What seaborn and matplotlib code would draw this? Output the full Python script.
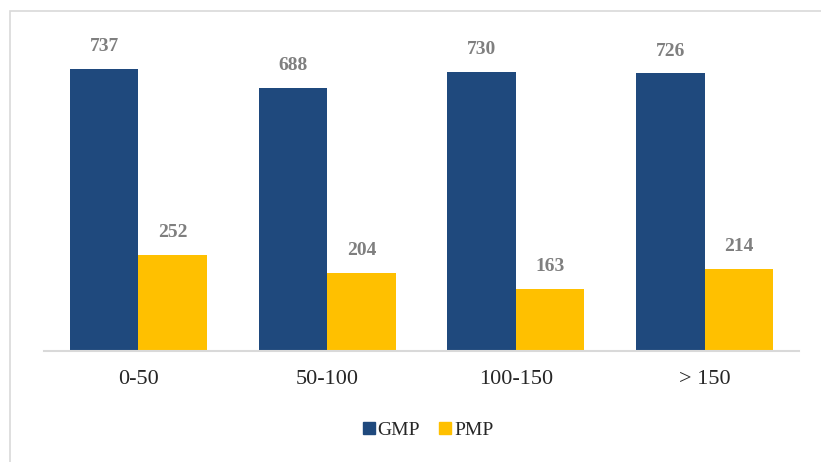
import numpy as np
import pandas as pd
import matplotlib
matplotlib.use("Agg")
import matplotlib.pyplot as plt
from matplotlib.patches import Rectangle
import seaborn as sns

sns.set_style("white")
plt.rcParams['font.family'] = ['Liberation Serif', 'DejaVu Serif']

# data
categories = ["0-50", "50-100", "100-150", "> 150"]
gmp_values = [737, 688, 730, 726]
pmp_values = [252, 204, 163, 214]
series_names = ["GMP", "PMP"]

df = pd.DataFrame({
    "Range": categories * 2,
    "Value": gmp_values + pmp_values,
    "Series": [series_names[0]] * len(categories) + [series_names[1]] * len(categories),
})

fig = plt.figure(figsize=(8.21, 4.62), dpi=100)
ax = fig.add_axes([44/821, 1 - 351/462, 755/821, 325/462])

sns.barplot(data=df, x="Range", y="Value", hue="Series",
            palette=["#1F497D", "#FFC000"], width=0.726, gap=0,
            saturation=1, linewidth=0, ax=ax, legend=False)

for container in ax.containers:
    ax.bar_label(container, padding=10, fontsize=14, fontweight="bold",
                 color="#7F7F7F")

ax.set_ylim(0, 850)
ax.set_xlim(-0.5, 3.5)
ax.set_yticks([])
ax.set_xlabel("")
ax.set_ylabel("")
ax.tick_params(axis="x", length=0, labelsize=16, pad=14)
for s in ["top", "right", "left"]:
    ax.spines[s].set_visible(False)
ax.spines["bottom"].set_color("#D9D9D9")
ax.spines["bottom"].set_linewidth(1.5)

# legend with square markers
handles = [plt.Line2D([], [], marker="s", linestyle="", markersize=8.5,
                      color=c) for c in ["#1F497D", "#FFC000"]]
fig.legend(handles, series_names, loc="center", bbox_to_anchor=(427/821, 1 - 430/462),
           ncol=2, frameon=False, fontsize=14, handletextpad=0.05,
           columnspacing=0.9, handlelength=0.8)

# chart area border
fig.patches.append(Rectangle((10/821, -0.1), 1.0, 1 - 11/462 + 0.1,
                             transform=fig.transFigure, fill=False,
                             edgecolor="#D9D9D9", linewidth=1.2))

fig.savefig("out.png", dpi=100)
